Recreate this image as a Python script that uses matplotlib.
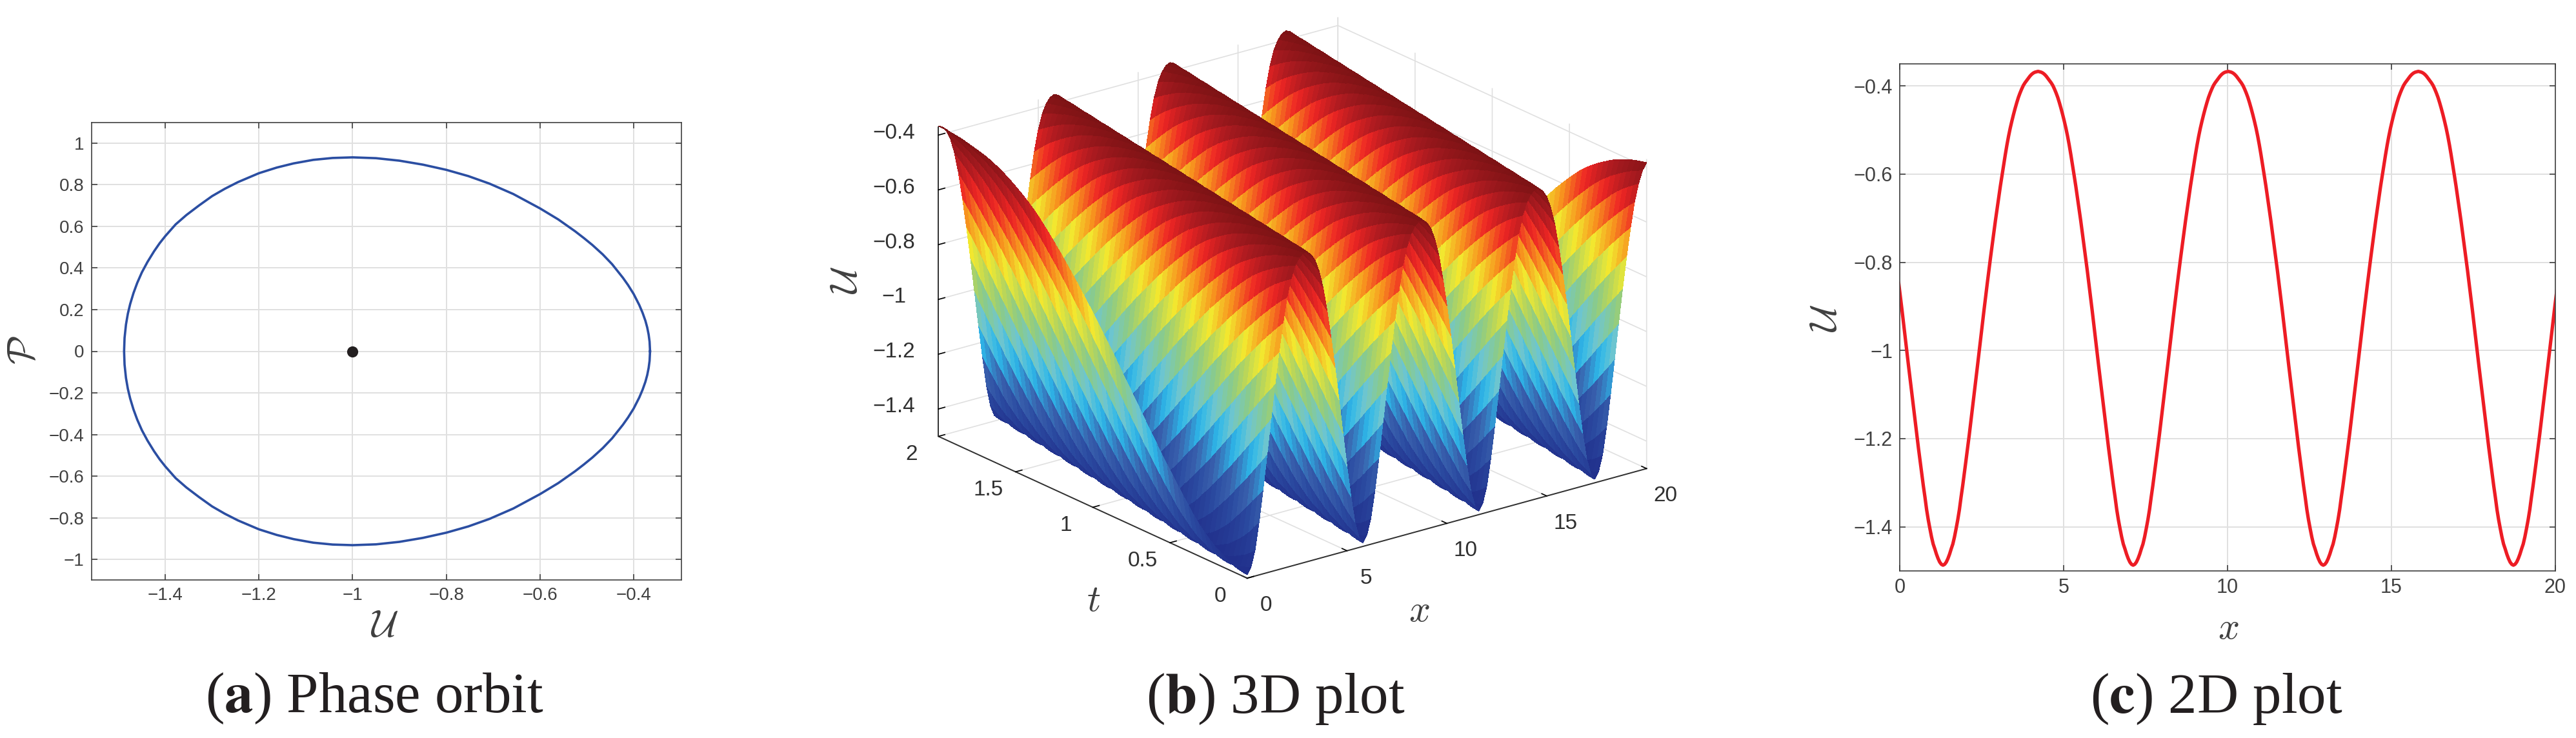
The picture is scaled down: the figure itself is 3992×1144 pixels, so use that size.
"""Phase orbit, 3D plot and 2D plot of the periodic wave solution"""
import numpy as np
import matplotlib
matplotlib.use("Agg")
import matplotlib.pyplot as plt
from matplotlib.colors import LinearSegmentedColormap, Normalize
from matplotlib.transforms import ScaledTranslation

plt.rcParams["font.family"] = ["Liberation Sans", "DejaVu Sans"]

# ============ data ============
# upper half of the orbit, right end to left end
orbit_u = [-0.365, -0.366, -0.368, -0.371, -0.375, -0.381, -0.388, -0.400, -0.412, -0.423,
           -0.446, -0.466, -0.488, -0.506, -0.525, -0.561, -0.600, -0.657, -0.708, -0.753,
           -0.800, -0.850, -0.900, -0.950, -1.000, -1.043, -1.084, -1.126, -1.162, -1.200,
           -1.245, -1.273, -1.300, -1.328, -1.355, -1.378, -1.400, -1.412, -1.424, -1.438,
           -1.450, -1.460, -1.468, -1.475, -1.480, -1.484, -1.487, -1.488]
orbit_p = [0.000, 0.046, 0.080, 0.114, 0.147, 0.185, 0.222, 0.275, 0.318, 0.353,
           0.418, 0.465, 0.510, 0.543, 0.576, 0.633, 0.686, 0.755, 0.805, 0.841,
           0.871, 0.896, 0.915, 0.927, 0.931, 0.928, 0.919, 0.902, 0.882, 0.855,
           0.812, 0.780, 0.745, 0.700, 0.654, 0.609, 0.553, 0.519, 0.480, 0.429,
           0.379, 0.328, 0.279, 0.227, 0.180, 0.128, 0.064, 0.000]
center_u = [-1.0]
center_p = [0.0]

# half a wave, trough to crest, step 0.05 in x
wave_half = [-1.487, -1.485, -1.480, -1.472, -1.462, -1.450, -1.439, -1.423, -1.404, -1.384,
             -1.361, -1.333, -1.307, -1.279, -1.250, -1.221, -1.192, -1.161, -1.130, -1.099,
             -1.067, -1.036, -1.004, -0.973, -0.941, -0.909, -0.878, -0.848, -0.818, -0.789,
             -0.761, -0.733, -0.705, -0.679, -0.653, -0.627, -0.603, -0.579, -0.556, -0.534,
             -0.514, -0.496, -0.480, -0.465, -0.451, -0.438, -0.426, -0.416, -0.407, -0.399,
             -0.393, -0.388, -0.383, -0.378, -0.374, -0.371, -0.369, -0.368, -0.367]
wave_u = np.array(wave_half + wave_half[-2:0:-1])
wave_step = 0.05
wave_speed = 1.45
first_trough_2d = 1.32

a_xticks = [-1.4, -1.2, -1.0, -0.8, -0.6, -0.4]
a_xlabels = ["\u22121.4", "\u22121.2", "\u22121", "\u22120.8", "\u22120.6", "\u22120.4"]
a_yticks = [-1, -0.8, -0.6, -0.4, -0.2, 0, 0.2, 0.4, 0.6, 0.8, 1]
a_ylabels = ["\u22121", "\u22120.8", "\u22120.6", "\u22120.4", "\u22120.2", "0", "0.2", "0.4", "0.6", "0.8", "1"]
u_ticks = [-1.4, -1.2, -1.0, -0.8, -0.6, -0.4]
u_labels = ["\u22121.4", "\u22121.2", "\u22121", "\u22120.8", "\u22120.6", "\u22120.4"]
x_ticks = [0, 5, 10, 15, 20]
x_labels = ["0", "5", "10", "15", "20"]
t_ticks = [0, 0.5, 1, 1.5, 2]
t_labels = ["0", "0.5", "1", "1.5", "2"]

W, H = 3992, 1144
GRAY = "#404040"
GRID = "#e0e0e0"

fig = plt.figure(figsize=(W / 200, H / 200), dpi=200, facecolor="white")


def box(left, top, right, bottom):
    return [left / W, 1 - bottom / H, (right - left) / W, (bottom - top) / H]


def put(x, y, s, size, rot=0, color=GRAY, math="cm", family=None):
    fig.text(x / W, 1 - y / H, s, fontsize=size, rotation=rot, color=color, ha="center", va="center",
             math_fontfamily=math, family=family)


def style_2d(ax, size):
    ax.grid(True, color=GRID, lw=0.7)
    ax.set_axisbelow(True)
    ax.tick_params(direction="in", top=True, right=True, length=3.2, width=0.6, color=GRAY,
                   labelcolor=GRAY, labelsize=size, pad=4)
    for sp in ax.spines.values():
        sp.set_color(GRAY)
        sp.set_linewidth(0.6)


# ============ (a) phase orbit ============
ax1 = fig.add_axes(box(141.5, 190, 1056, 899))
ax1.plot(orbit_u + orbit_u[::-1], orbit_p + [-p for p in orbit_p[::-1]], color="#2b4ea2", lw=1.3)
ax1.plot(center_u, center_p, "o", color="#231f20", ms=6.2, mew=0)
ax1.set_xlim(-1.558, -0.298)
ax1.set_ylim(-1.098, 1.098)
ax1.set_xticks(a_xticks, a_xlabels)
ax1.set_yticks(a_yticks, a_ylabels)
style_2d(ax1, 10)
put(596, 972, r"$\mathcal{U}$", 21)
put(37, 543, r"$\mathcal{P}$", 21, rot=90)

# ============ (b) 3D plot ============
# coarse in x (0.2), fine in t: the travelling wave is read from the table along x - c*t
cols = np.arange(101)
rows = np.arange(59)
X, T = np.meshgrid(cols * 4 * wave_step, rows * wave_step / wave_speed)
U = wave_u[(4 * cols[None, :] - rows[:, None]) % len(wave_u)]

cmap = LinearSegmentedColormap.from_list("wave", [
    (0.00, "#21308c"), (0.12, "#2b4ba1"), (0.20, "#3a62ad"), (0.30, "#2db8ea"), (0.38, "#6fc6cf"),
    (0.47, "#8ccb86"), (0.55, "#bdd756"), (0.62, "#f2ea30"), (0.72, "#f7941e"), (0.82, "#ee2524"),
    (0.92, "#a4191f"), (1.00, "#7d1315")])
norm = Normalize(wave_u.min(), wave_u.max())

size3d = 1184
ax2 = fig.add_axes(box(1395, H - 74.5 - size3d, 1395 + size3d, H - 74.5), projection="3d", facecolor="none")
ax2.set_proj_type("ortho")
ax2.view_init(elev=20.8, azim=-127.7)
ax2.set_box_aspect((1, 1, 0.656))
ax2.plot_surface(X, T, U, facecolors=cmap(norm(U)), rstride=1, cstride=1, shade=False,
                 linewidth=0, antialiased=False)
ax2.set_xlim(0, 20, view_margin=0)
ax2.set_ylim(0, 2, view_margin=0)
ax2.set_zlim(-1.5, -0.37, view_margin=0)
ax2.set_xticks(x_ticks, x_labels)
ax2.set_yticks(t_ticks, t_labels)
ax2.set_zticks(u_ticks, u_labels)
for axis in [ax2.xaxis, ax2.yaxis, ax2.zaxis]:
    axis.set_pane_color((1, 1, 1, 0))
    axis.pane.set_edgecolor(GRID)
    axis.line.set_color("#303030")
    axis.line.set_linewidth(0.7)
    axis._axinfo["grid"].update(color=GRID, linewidth=0.6)
    axis._axinfo["tick"].update(inward_factor=0.0, outward_factor=0.2, linewidth={True: 0.6, False: 0.6})
ax2.tick_params(labelsize=12, labelcolor="#303030")
ax2.tick_params(axis="x", pad=5.5)
ax2.tick_params(axis="y", pad=7)
ax2.tick_params(axis="z", pad=6)
for lab in ax2.get_xticklabels():
    lab.set_va("center")
for lab in ax2.get_yticklabels():
    lab.set_va("bottom")
# nudge the z tick labels up by a few pixels (200 dpi)
for lab in ax2.get_zticklabels():
    lab.set_va("center")
    lab.set_transform(lab.get_transform() + ScaledTranslation(0, 16 / 200, fig.dpi_scale_trans))
put(1313, 434, r"$\mathcal{U}$", 21, rot=90)
put(1695, 932, r"$t$", 21)
put(2199, 948, r"$x$", 21)

# ============ (c) 2D plot ============
ax3 = fig.add_axes(box(2944, 99, 3960, 885))
line_k = np.arange(403)
line_x = first_trough_2d + wave_step * (line_k - 27)
line_u = wave_u[(line_k - 27) % len(wave_u)]
ax3.plot(line_x, line_u, color="#ed1c24", lw=1.9)
ax3.set_xlim(0, 20)
ax3.set_ylim(-1.5, -0.35)
ax3.set_xticks(x_ticks, x_labels)
ax3.set_yticks(u_ticks, u_labels)
style_2d(ax3, 11)
put(2831, 493, r"$\mathcal{U}$", 21, rot=90)
put(3453, 975, r"$x$", 21)

# ============ captions ============
serif = ["Liberation Serif", "DejaVu Serif"]
put(580, 1083, r"($\mathbf{a}$) Phase orbit", 32, color="#231f20", math="stix", family=serif)
put(1977, 1083, r"($\mathbf{b}$) 3D plot", 32, color="#231f20", math="stix", family=serif)
put(3435, 1083, r"($\mathbf{c}$) 2D plot", 32, color="#231f20", math="stix", family=serif)

fig.savefig("out.png", dpi=200, facecolor="white")
plt.close(fig)
